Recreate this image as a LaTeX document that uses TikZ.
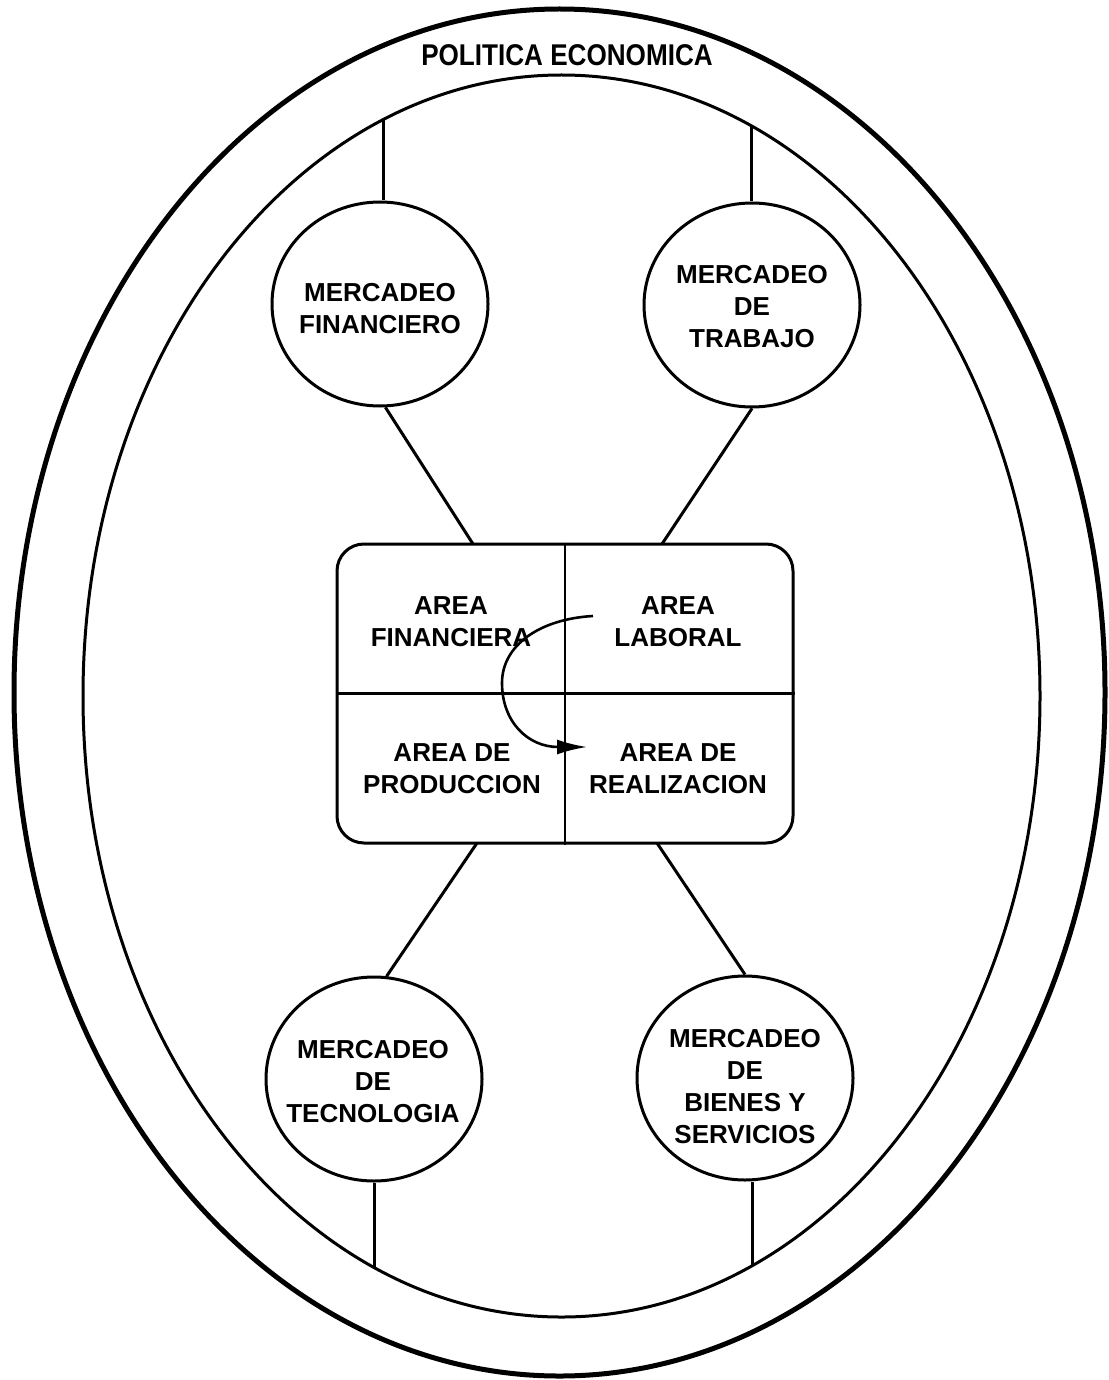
\documentclass[tikz,border=0pt]{standalone}
\usepackage{fontspec}
\usepackage{graphicx}
\setmainfont{Liberation Sans}
\usetikzlibrary{arrows.meta,shapes.geometric}
\begin{document}
\begin{tikzpicture}[x=1pt,y=-1pt,
  lbl/.style={font=\fontsize{26}{32}\selectfont\bfseries, align=center, inner sep=0},
  mkt/.style={draw, ellipse, line width=3, minimum width=216, minimum height=204, inner sep=0},
  link/.style={line width=3},
  divider/.style={line width=2.6}]
\useasboundingbox (0,0) rectangle (1108,1380);
% outer and inner ellipses
\draw[line width=5] (559.5,692.5) ellipse [x radius=545.5, y radius=683.5];
\draw[line width=3] (561.5,696) ellipse [x radius=478.5, y radius=621];
\node[font=\fontsize{30}{36}\selectfont\bfseries, inner sep=0] (pe) at (567,55) {\scalebox{0.87}[1]{POLITICA ECONOMICA}};
% central box
\node[draw, line width=3, rounded corners=27, minimum width=456, minimum height=299, inner sep=0] (box) at (565,693.5) {};
\draw[divider] (box.north) -- (box.south);
\draw[divider] (box.west) -- (box.east);
\node[lbl] (af) at (451,622) {AREA\\FINANCIERA};
\node[lbl] (al) at (678,622) {AREA\\LABORAL};
\node[lbl] (ap) at (452,769) {AREA DE\\PRODUCCION};
\node[lbl] (ar) at (678,769) {AREA DE\\REALIZACION};
% market circles
\node[mkt] (mf) at (380,304) {};
\node[lbl] (mft) at (380,309) {MERCADEO\\FINANCIERO};
\node[mkt] (mt) at (752,305) {};
\node[lbl] (mtt) at (752,306.5) {MERCADEO\\DE\\TRABAJO};
\node[mkt] (mtec) at (374,1079) {};
\node[lbl] (mtect) at (373,1082) {MERCADEO\\DE\\TECNOLOGIA};
\node[mkt] (mb) at (745,1078) {};
\node[lbl] (mbt) at (745,1087) {MERCADEO\\DE\\BIENES Y\\SERVICIOS};
% coordinates on inner ellipse and box
\coordinate (e1) at (383,120);
\coordinate (e2) at (751,126);
\coordinate (e3) at (374,1267);
\coordinate (e4) at (752,1266);
\coordinate (b1) at (473,544);
\coordinate (b2) at (662,544);
\coordinate (b3) at (477,843);
\coordinate (b4) at (657,843);
% connectors
\draw[link] (e1) -- (e1 |- mf.north);
\draw[link] (e2) -- (e2 |- mt.north);
\draw[link] (e3) -- (e3 |- mtec.south);
\draw[link] (e4) -- (e4 |- mb.south);
\draw[link] (mf.-87) -- (b1);
\draw[link] (mt.south) -- (b2);
\draw[link] (b3) -- (mtec.83);
\draw[link] (b4) -- (mb.north);
% curved arrow
\coordinate (cs) at (593,616);
\coordinate (cm) at (502,683);
\coordinate (ce) at (587,747);
\draw[line width=2.6, -{Latex[length=30pt,width=15pt]}] (cs) .. controls (540,619) and (502,645) .. (cm) .. controls (502,722) and (528,747) .. (ce);
\end{tikzpicture}
\end{document}
